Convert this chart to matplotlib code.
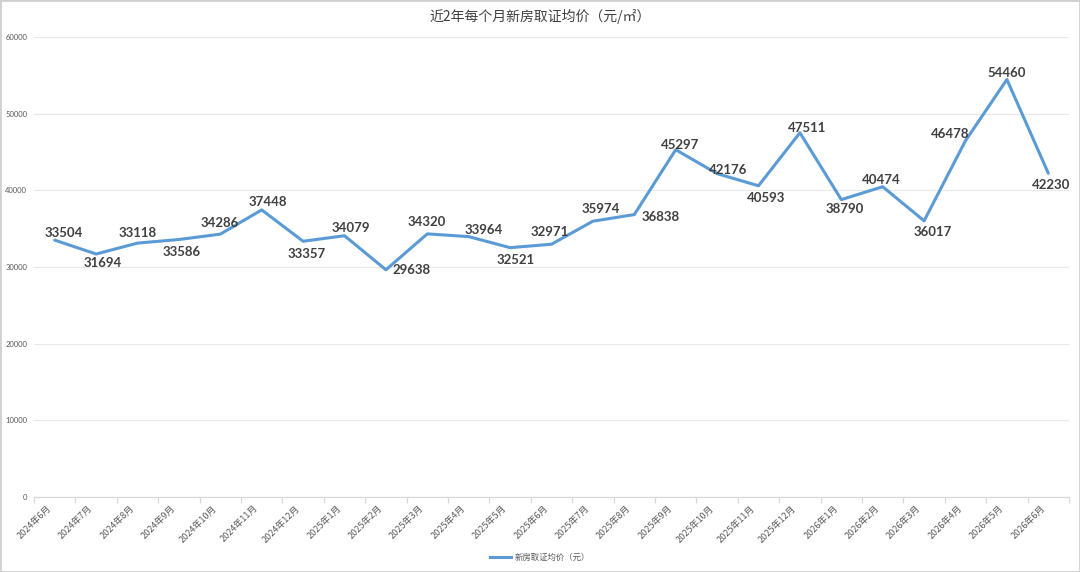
import matplotlib
matplotlib.use('Agg')
import matplotlib.pyplot as plt
from matplotlib.patches import Rectangle
from matplotlib.transforms import ScaledTranslation
from matplotlib.lines import Line2D

# ---------------- data ----------------
months = ['2024年6月', '2024年7月', '2024年8月', '2024年9月', '2024年10月', '2024年11月',
          '2024年12月', '2025年1月', '2025年2月', '2025年3月', '2025年4月', '2025年5月',
          '2025年6月', '2025年7月', '2025年8月', '2025年9月', '2025年10月', '2025年11月',
          '2025年12月', '2026年1月', '2026年2月', '2026年3月', '2026年4月', '2026年5月',
          '2026年6月']
prices = [33504, 31694, 33118, 33586, 34286, 37448, 33357, 34079, 29638, 34320,
          33964, 32521, 32971, 35974, 36838, 45297, 42176, 40593, 47511, 38790,
          40474, 36017, 46478, 54460, 42230]
y_ticks = [0, 10000, 20000, 30000, 40000, 50000, 60000]
title_text = '近2年每个月新房取证均价（元/㎡）'
series_name = '新房取证均价（元）'

# label placement offsets (pixels, dx, dy up)
label_offsets = [(9, 7), (7, -9), (0, 10), (3, -12), (-1, 11), (6, 8), (4, -13), (6, 8),
                 (26, 0), (-1, 12), (15, 7), (6, -12), (-2, 12), (8, 12), (26, -2), (4, 5),
                 (11, 4), (8, -12), (7, 5), (3, -9), (-1, 7), (9, -11), (-15, 7), (0, 6),
                 (3, -12)]

CJK = ['Noto Sans CJK SC', 'DejaVu Sans']
NUM = ['Lato', 'Noto Sans CJK SC', 'DejaVu Sans']
plt.rcParams['font.family'] = NUM

W, H = 1080, 572
fig = plt.figure(figsize=(W / 100, H / 100), dpi=100)
fig.patch.set_facecolor('white')

left, right, top, bottom = 34, 1069, 37, 497
ax = fig.add_axes([left / W, 1 - bottom / H, (right - left) / W, (bottom - top) / H])

x = list(range(len(months)))
line, = ax.plot(x, prices, color='#5B9BD5', lw=2.2, solid_joinstyle='round',
                solid_capstyle='round', zorder=3)

ax.set_xlim(-0.5, len(months) - 0.5)
ax.set_ylim(y_ticks[0], y_ticks[-1])
ax.set_yticks(y_ticks)
ax.set_yticklabels([str(v) for v in y_ticks])
ax.tick_params(axis='y', length=0, pad=5, labelsize=5.5, labelcolor='#595959')
ax.grid(axis='y', color='#E8E8E8', lw=0.8, zorder=0)
ax.set_axisbelow(True)

for s in ['left', 'right', 'top']:
    ax.spines[s].set_visible(False)
ax.spines['bottom'].set_color('#D9D9D9')
ax.spines['bottom'].set_linewidth(0.9)

ax.set_xticks(x)
ax.set_xticklabels(months, fontsize=6.5, color='#595959', family=CJK,
                   rotation=45, ha='right', va='center', rotation_mode='anchor')
ax.tick_params(axis='x', which='major', length=0, pad=7)
ax.set_xticks([i - 0.5 for i in range(len(months) + 1)], minor=True)
ax.tick_params(axis='x', which='minor', length=4, color='#D9D9D9', width=0.9)
for lab in ax.get_xticklabels():
    lab.set_transform(lab.get_transform() + ScaledTranslation(-5 / 100, 0, fig.dpi_scale_trans))

for i, (v, (dx, dy)) in enumerate(zip(prices, label_offsets)):
    ax.annotate(str(v), (i, v), xytext=(dx, dy), textcoords='offset pixels',
                ha='center', va='center', fontsize=9.5, fontweight='bold',
                color='#404040', family=NUM, zorder=4)

fig.text(0.5, 1 - 16 / H, title_text, ha='center', va='center', fontsize=10,
         color='#404040', family=CJK, fontweight='medium')

handle = Line2D([0], [0], color='#5B9BD5', lw=2.2)
fig.legend([handle], [series_name], loc='center', bbox_to_anchor=(0.5, 1 - 557 / H),
           frameon=False, handlelength=2.5, handletextpad=0.4,
           prop={'family': CJK, 'size': 6}, labelcolor='#595959')

fig.patches.append(Rectangle((0, 0), 1, 1, transform=fig.transFigure, fill=False,
                             edgecolor='#D0D0D0', lw=2))

fig.savefig('out.png', dpi=100, facecolor='white')
